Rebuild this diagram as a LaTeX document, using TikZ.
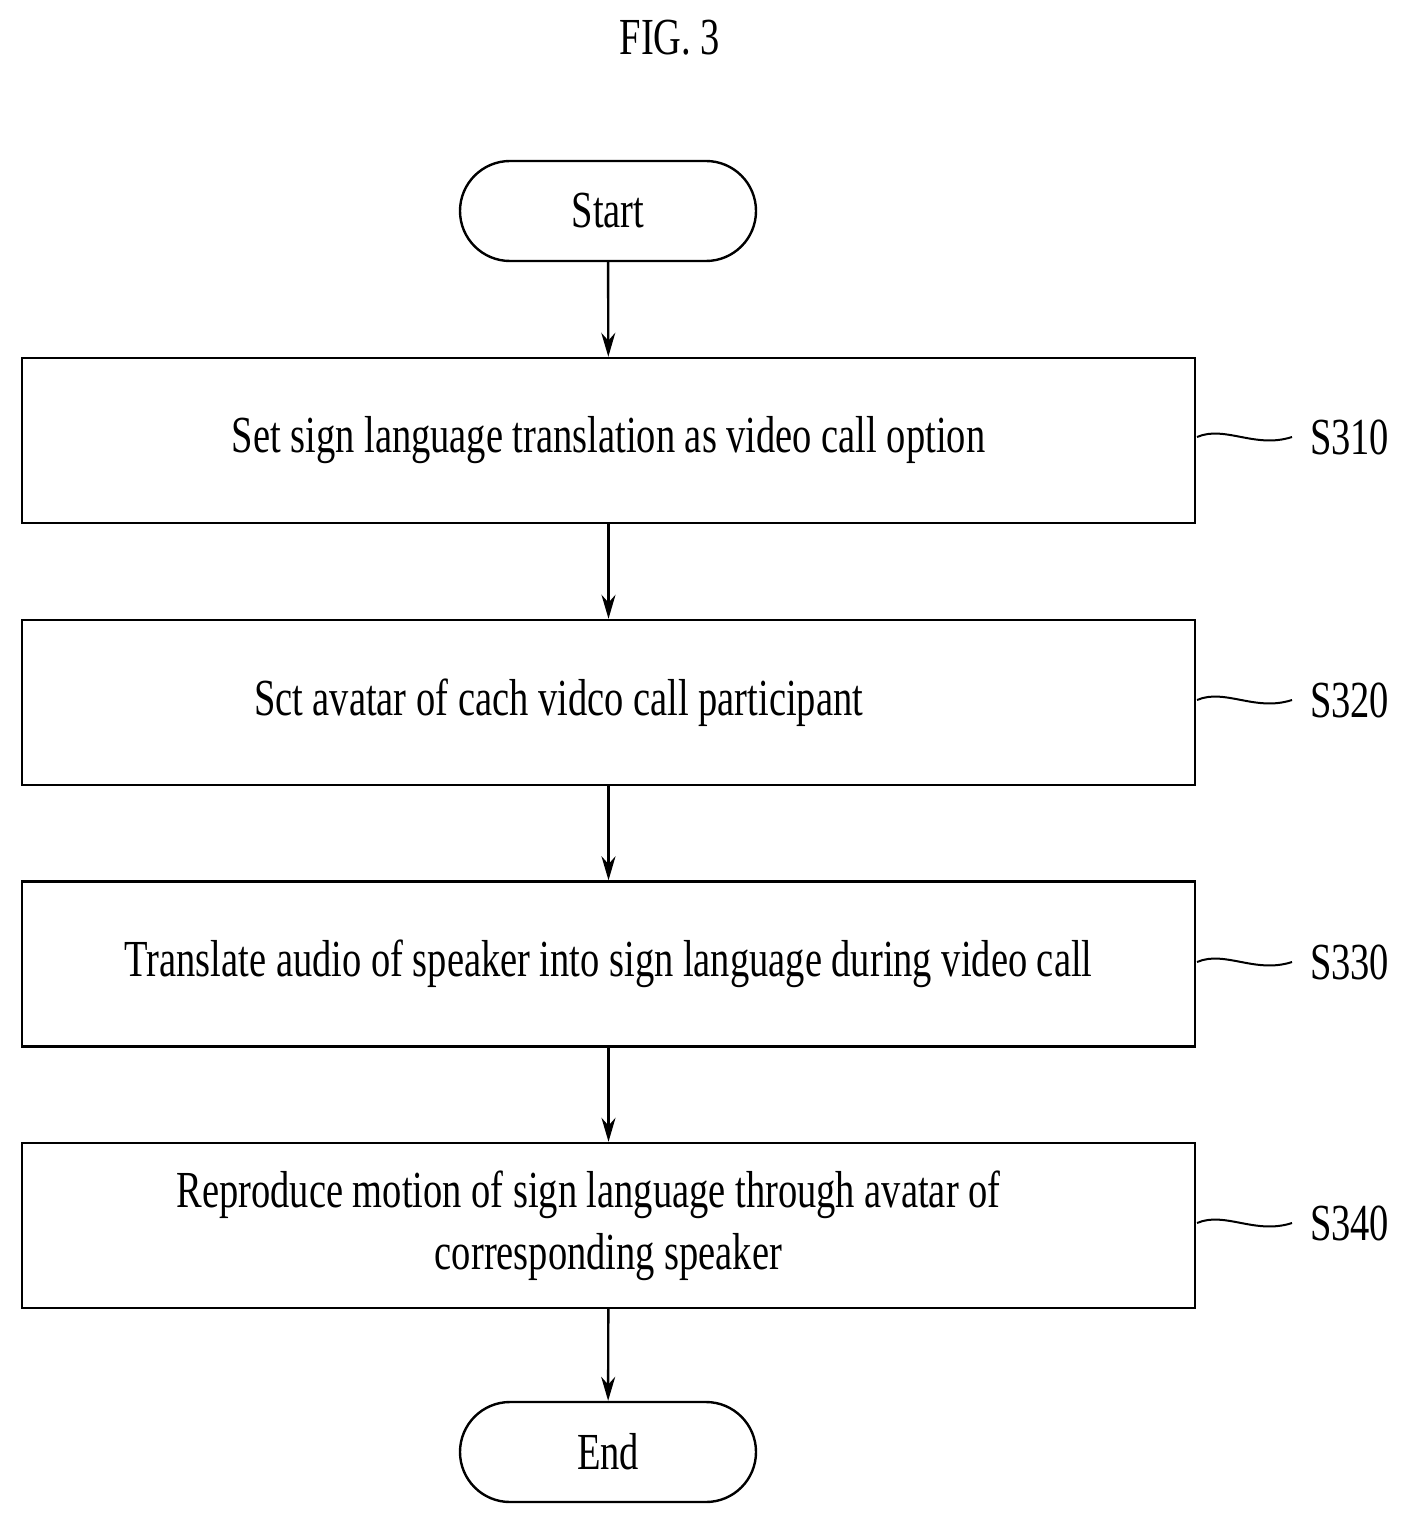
\documentclass[tikz,border=0pt]{standalone}
\usepackage{fontspec}
\setmainfont{Liberation Serif}[FakeStretch=0.74]
\usetikzlibrary{arrows.meta,shapes.misc}
\begin{document}
\begin{tikzpicture}[x=0.5pt,y=-0.5pt,
  box/.style={draw,line width=1.2pt,minimum width=586.5pt,minimum height=82.5pt,inner sep=0pt,align=center,font=\fontsize{26}{31}\selectfont},
  term/.style={draw,line width=1.2pt,rounded rectangle,minimum width=148pt,minimum height=50pt,inner sep=0pt,font=\fontsize{26}{31}\selectfont},
  arr/.style={-{Stealth[length=12pt,width=7pt]},line width=1.2pt},
  lab/.style={font=\fontsize{26}{31}\selectfont},
  sq/.style={line width=1pt}]
\useasboundingbox (0,0) rectangle (1411,1529);
\node[lab] (fig) at (670,38) {FIG. 3};
\node[term] (start) at (608,211) {Start};
\node[box] (b1) at (608.5,440.5) {Set sign language translation as video call option};
\node[box] (b2) at (608.5,702.5) {Sct avatar of cach vidco call participant\hspace*{50pt}};
\node[box] (b3) at (608.5,964) {Translate audio of speaker into sign language during video call};
\node[box] (b4) at (608.5,1225.5) {Reproduce motion of sign language through avatar of\hspace*{20pt}\\ corresponding speaker};
\node[term] (end) at (608,1452) {End};
\draw[arr] (start) -- (b1);
\draw[arr] (b1) -- (b2);
\draw[arr] (b2) -- (b3);
\draw[arr] (b3) -- (b4);
\draw[arr] (b4) -- (end);
\foreach \n/\t/\y in {b1/S310/437, b2/S320/700, b3/S330/962, b4/S340/1223}{
  \coordinate (a\n) at (1197,\y);
  \coordinate (c\n) at (1292,\y);
  \draw[sq] (a\n) .. controls (1225,\y-12) and (1255,\y+12) .. (c\n);
  \node[lab,anchor=west] (l\n) at (1303,\y) {\t};
}
\end{tikzpicture}
\end{document}
